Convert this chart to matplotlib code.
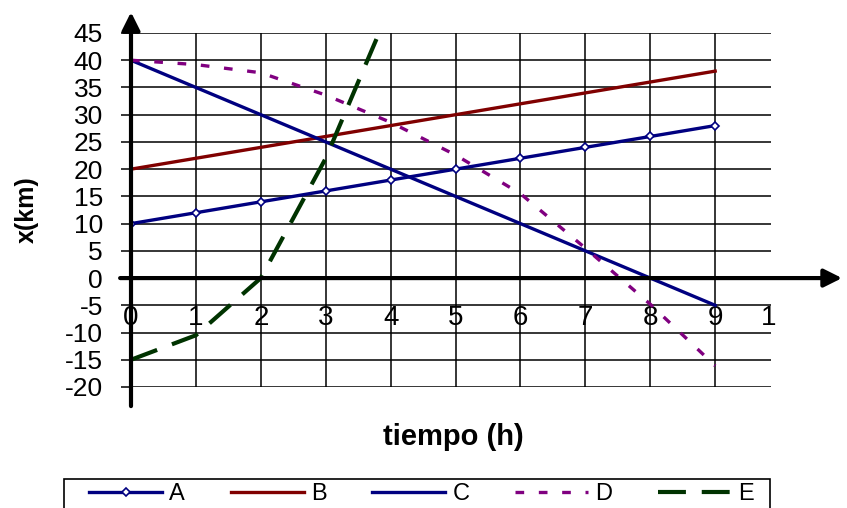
import matplotlib
matplotlib.use('Agg')
import matplotlib.pyplot as plt
from matplotlib.patches import Rectangle

plt.rcParams['font.family'] = ['Liberation Sans', 'DejaVu Sans']
plt.rcParams['axes.unicode_minus'] = False

# ---- data ----
hours = [0, 1, 2, 3, 4, 5, 6, 7, 8, 9]
series_a = [10, 12, 14, 16, 18, 20, 22, 24, 26, 28]
series_b = [20, 22, 24, 26, 28, 30, 32, 34, 36, 38]
series_c = [40, 35, 30, 25, 20, 15, 10, 5, 0, -5]
series_d = [40, 39.2, 37.7, 33.6, 28.6, 22.6, 15.5, 5.5, -4.8, -16.1]
hours_e = [0, 1, 2, 3, 4]
series_e = [-15, -10.5, 0, 22, 50]
series_names = ['A', 'B', 'C', 'D', 'E']
x_tick_values = [0, 1, 2, 3, 4, 5, 6, 7, 8, 9]
x_tick_labels = ['0', '1', '2', '3', '4', '5', '6', '7', '8', '9']
y_tick_values = [-20, -15, -10, -5, 0, 5, 10, 15, 20, 25, 30, 35, 40, 45]
x_label = 'tiempo (h)'
y_label = 'x(km)'

NAVY = '#000080'
RED = '#800000'
PURPLE = '#800080'
GREEN = '#003300'

W, H = 847, 508
fig = plt.figure(figsize=(W / 100, H / 100), dpi=100)
ax = fig.add_axes([131 / W, 1 - 387 / H, 640 / W, 354 / H])
ax.set_xlim(0, 9.86)
ax.set_ylim(-20, 45)

for s in ax.spines.values():
    s.set_visible(False)

ax.set_xticks(x_tick_values)
ax.set_yticks(y_tick_values)
ax.tick_params(axis='x', length=0, labelbottom=False)
ax.tick_params(axis='y', direction='out', length=7.2, width=1.1, color='black',
               labelsize=19, pad=13)
ax.grid(True, color='black', linewidth=1.1)
ax.set_axisbelow(True)

# series
ax.plot(hours, series_a, color=NAVY, lw=2.4, marker='D', ms=4, mfc='white',
        mec=NAVY, mew=1.2, label=series_names[0], zorder=4)
ax.plot(hours, series_b, color=RED, lw=2.4, label=series_names[1], zorder=4)
ax.plot(hours, series_c, color=NAVY, lw=2.4, label=series_names[2], zorder=4)
ax.plot(hours, series_d, color=PURPLE, lw=2.4, dashes=(2.6, 4.4),
        label=series_names[3], zorder=4)
ax.plot(hours_e, series_e, color=GREEN, lw=3.0, dashes=(6.7, 3.8),
        label=series_names[4], zorder=4)

# axes with arrows
arrow = dict(arrowstyle='-|>,head_length=0.4,head_width=0.2', mutation_scale=27,
             lw=3, color='black', shrinkA=0, shrinkB=0)
ax.annotate('', xy=(1.111, 0), xytext=(-0.017, 0),
            xycoords=('axes fraction', 'data'), textcoords=('axes fraction', 'data'),
            arrowprops=arrow, annotation_clip=False, zorder=5)
ax.annotate('', xy=(0, 1.059), xytext=(0, -0.054),
            xycoords=('data', 'axes fraction'), textcoords=('data', 'axes fraction'),
            arrowprops=arrow, annotation_clip=False, zorder=5)

# x tick labels placed just below the x axis
for xv, lab in zip(x_tick_values, x_tick_labels):
    ax.text(xv, -7.35, lab, ha='center', va='center', fontsize=20, clip_on=False)
ax.text(9.83, -7.35, '1', ha='center', va='center', fontsize=20, clip_on=False)

# axis titles
fig.text(27 / W, 1 - 210 / H, y_label, rotation=90, ha='center', va='center',
         fontsize=18, fontweight='bold')
fig.text(453 / W, 1 - 437 / H, x_label, ha='center', va='center',
         fontsize=21, fontweight='bold')

# legend frame + legend
fig.patches.append(Rectangle((64 / W, -0.02), 706 / W, (508 - 479) / H + 0.02,
                             transform=fig.transFigure, fill=False,
                             edgecolor='black', lw=1.2))
handles, labels = ax.get_legend_handles_labels()
fig.legend(handles, labels, loc='center left', bbox_to_anchor=(89 / W, 1 - 494 / H),
           ncol=5, frameon=False, fontsize=17, handlelength=3.1,
           handletextpad=0.3, columnspacing=1.93, borderpad=0, borderaxespad=0,
           numpoints=1)

fig.savefig('out.png', dpi=100)
